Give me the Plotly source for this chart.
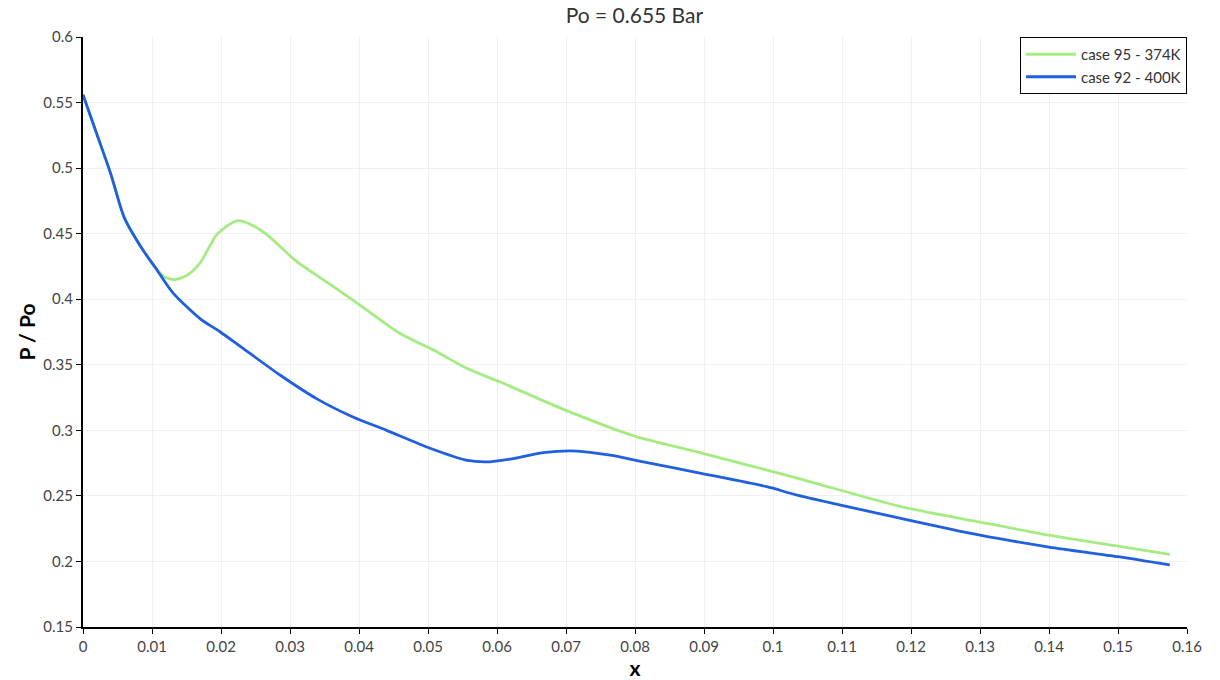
import plotly.graph_objects as go

# Pressure ratio along x for the two cases
x_case95 = [0.0, 0.002, 0.004, 0.006, 0.0085, 0.0105, 0.0118, 0.0133, 0.015, 0.017, 0.0195,
            0.0225, 0.0261, 0.031, 0.0363, 0.0411, 0.0459, 0.0508, 0.0556, 0.0604,
            0.0701, 0.0797, 0.0894, 0.1035, 0.1184, 0.13, 0.14, 0.15, 0.1575]
p_case95 = [0.556, 0.526, 0.496, 0.462, 0.439, 0.424, 0.417, 0.415, 0.418, 0.428, 0.450,
            0.460, 0.4515, 0.4286, 0.4096, 0.3918, 0.374, 0.3612, 0.3473, 0.337,
            0.315, 0.296, 0.283, 0.2636, 0.242, 0.230, 0.220, 0.2117, 0.2054]

x_case92 = [0.0, 0.002, 0.004, 0.006, 0.0085, 0.0105, 0.013, 0.017, 0.0199, 0.0228, 0.0286,
            0.0339, 0.0392, 0.044, 0.0503, 0.0557, 0.059, 0.0619, 0.0667, 0.0716,
            0.0764, 0.0812, 0.0894, 0.0991, 0.1035, 0.1184, 0.13, 0.14, 0.15, 0.1575]
p_case92 = [0.556, 0.526, 0.496, 0.462, 0.439, 0.424, 0.405, 0.385, 0.375, 0.364, 0.342,
            0.324, 0.310, 0.300, 0.2863, 0.277, 0.276, 0.278, 0.283, 0.2842,
            0.281, 0.276, 0.2674, 0.257, 0.2506, 0.233, 0.220, 0.211, 0.2036, 0.1973]

x_ticks = [0, 0.01, 0.02, 0.03, 0.04, 0.05, 0.06, 0.07, 0.08, 0.09, 0.1,
           0.11, 0.12, 0.13, 0.14, 0.15, 0.16]
y_ticks = [0.15, 0.2, 0.25, 0.3, 0.35, 0.4, 0.45, 0.5, 0.55, 0.6]

FONT = "Lato, 'Open Sans', sans-serif"

fig = go.Figure()
fig.add_trace(go.Scatter(x=x_case95, y=p_case95, mode="lines", name="case 95 - 374K",
                         line=dict(color="#a4ec82", width=2.8, shape="spline", smoothing=0.7)))
fig.add_trace(go.Scatter(x=x_case92, y=p_case92, mode="lines", name="case 92 - 400K",
                         line=dict(color="#1f5fe0", width=2.8, shape="spline", smoothing=0.7)))

axis_common = dict(
    showline=True, linecolor="black", linewidth=2,
    ticks="outside", ticklen=5, tickcolor="black", tickwidth=1,
    showgrid=True, gridcolor="#f0f0f0", gridwidth=1,
    zeroline=False, mirror=False, automargin=False,
    tickfont=dict(family=FONT, size=15, color="#444"),
)

fig.update_layout(
    width=1220, height=680,
    margin=dict(l=83, r=33, t=37, b=53),
    paper_bgcolor="white", plot_bgcolor="white",
    title=dict(text="Po = 0.655 Bar", x=0.52, xanchor="center", y=0.988, yanchor="top",
               font=dict(family=FONT, size=21, color="#333")),
    xaxis=dict(range=[0, 0.16], tickvals=x_ticks, ticktext=[f"{v:g}" for v in x_ticks],
               title=dict(text="<b>x</b>", font=dict(family=FONT, size=21, color="black"),
                          standoff=4),
               **axis_common),
    yaxis=dict(range=[0.15, 0.6], tickvals=y_ticks, ticktext=[f"{v:g}" for v in y_ticks],
               title=dict(text="<b>P / Po</b>", font=dict(family=FONT, size=21, color="black"),
                          standoff=2),
               **axis_common),
    legend=dict(x=1.0, y=1.0, xanchor="right", yanchor="top",
                bordercolor="black", borderwidth=1, bgcolor="white",
                font=dict(family=FONT, size=15, color="#333"),
                tracegroupgap=0, itemwidth=50),
    showlegend=True,
)

fig.write_html("out.html")
